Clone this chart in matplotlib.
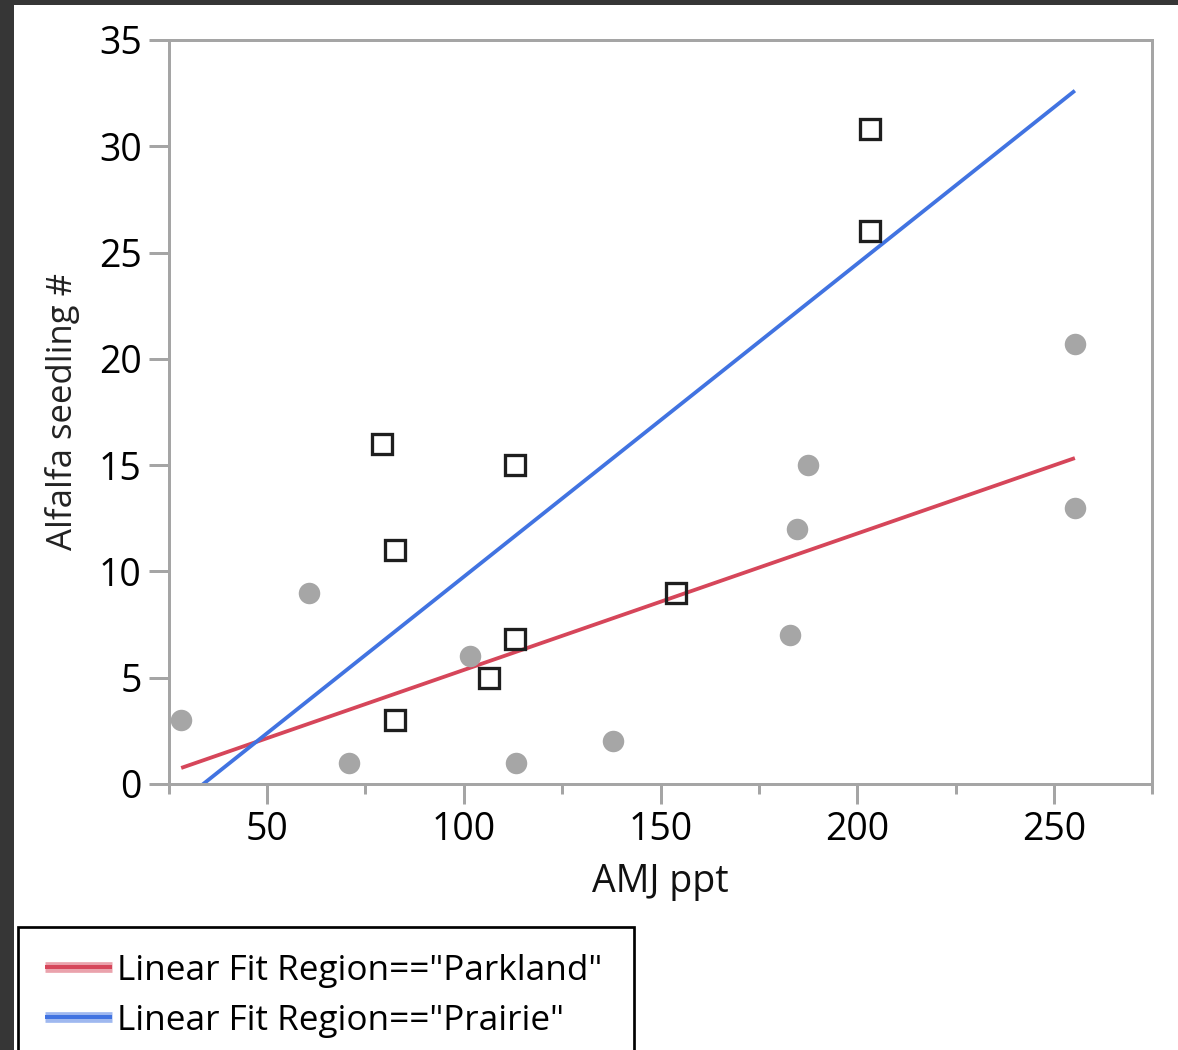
import numpy as np
import matplotlib
matplotlib.use('Agg')
import matplotlib.pyplot as plt
from matplotlib.patches import Rectangle
from matplotlib.lines import Line2D
from matplotlib.ticker import MultipleLocator

# ---------------- data ----------------
parkland_ppt = [28.2, 60.7, 70.8, 101.6, 113.3, 137.9, 182.9, 184.7, 187.5, 255.3, 255.3]
parkland_seedling = [3, 9, 1, 6, 1, 2, 7, 12, 15, 13, 20.7]
prairie_ppt = [79.2, 82.5, 82.5, 112.9, 112.9, 106.4, 154.0, 203.2, 203.2]
prairie_seedling = [16, 11, 3, 15, 6.8, 5, 9, 30.8, 26]
regions = ['Parkland', 'Prairie']
fit_colors = ['#d6465a', '#4173e1']
x_ticks = [50, 100, 150, 200, 250]
y_ticks = [0, 5, 10, 15, 20, 25, 30, 35]
x_label = 'AMJ ppt'
y_label = 'Alfalfa seedling #'
legend_labels = ['Linear Fit Region=="%s"' % r for r in regions]

plt.rcParams['font.family'] = ['Open Sans', 'DejaVu Sans']

W, H, DPI = 1178, 1050, 100
fig = plt.figure(figsize=(W / DPI, H / DPI), dpi=DPI)
fig.patch.set_facecolor('white')


def px(v):
    return v * 72.0 / DPI


def fx(x):
    return x / W


def fy(y):
    return 1 - y / H


L, R, T, B = 168.6, 1152.4, 40, 784
ax = fig.add_axes([fx(L), fy(B), (R - L) / W, (B - T) / H])
ax.set_xlim(25, 275)
ax.set_ylim(0, 35)

axis_gray = '#a5a5a5'

# fit lines over the full x range of the data
all_x = np.concatenate([parkland_ppt, prairie_ppt])
xs = np.array([all_x.min(), all_x.max()])
groups = [(parkland_ppt, parkland_seedling), (prairie_ppt, prairie_seedling)]
for (gx, gy), c in zip(groups, fit_colors):
    m, b = np.polyfit(gx, gy, 1)
    ax.plot(xs, m * xs + b, color=c, lw=px(3.8), zorder=2, solid_capstyle='butt')

ax.plot(parkland_ppt, parkland_seedling, 'o', ms=px(21.5), color='#a6a6a6',
        mec='none', zorder=3, clip_on=False)
ax.plot(prairie_ppt, prairie_seedling, 's', ms=px(20.5), mfc='none',
        mec='#1e1e1e', mew=px(3.3), zorder=4)

for s in ax.spines.values():
    s.set_color(axis_gray)
    s.set_linewidth(px(3))

ax.set_xticks(x_ticks)
ax.set_yticks(y_ticks)
ax.xaxis.set_minor_locator(MultipleLocator(25))
ax.tick_params(axis='both', which='major', direction='out', length=px(20),
               width=px(3), color=axis_gray, labelsize=27, labelcolor='black')
ax.tick_params(axis='x', which='major', pad=px(7))
ax.tick_params(axis='y', which='major', pad=px(7))
ax.tick_params(axis='x', which='minor', direction='out', length=px(10),
               width=px(3), color=axis_gray)
ax.tick_params(top=False, right=False)

fig.text(fx((L + R) / 2), fy(892), x_label, fontsize=27, ha='center',
         va='baseline', color='#111111')
fig.text(fx(72), fy((T + B) / 2), y_label, fontsize=25, ha='center',
         va='baseline', rotation=90, rotation_mode='anchor', color='#222222')

# legend box (manual, matches screenshot geometry)
fig.add_artist(Rectangle((fx(18), fy(1065)), (633.5 - 18) / W, (1065 - 927) / H,
                         transform=fig.transFigure, fill=False, ec='black',
                         lw=px(2.7), clip_on=False))
for i, (lab, c) in enumerate(zip(legend_labels, fit_colors)):
    yc = 967.3 + 50 * i
    fig.add_artist(Line2D([fx(45), fx(112)], [fy(yc), fy(yc)], transform=fig.transFigure,
                          color=c, lw=px(10.7), alpha=0.5, solid_capstyle='butt'))
    fig.add_artist(Line2D([fx(45), fx(112)], [fy(yc), fy(yc)], transform=fig.transFigure,
                          color=c, lw=px(4), solid_capstyle='butt'))
    fig.text(fx(117), fy(980 + 50 * i), lab, fontsize=25.3, ha='left',
             va='baseline', color='black')

# screenshot dark borders
fig.add_artist(Rectangle((0, fy(4.7)), 1, 4.7 / H, transform=fig.transFigure,
                         color='#363636', lw=0))
fig.add_artist(Rectangle((0, 0), 14 / W, 1, transform=fig.transFigure,
                         color='#363636', lw=0))

fig.savefig('out.png', dpi=DPI)
